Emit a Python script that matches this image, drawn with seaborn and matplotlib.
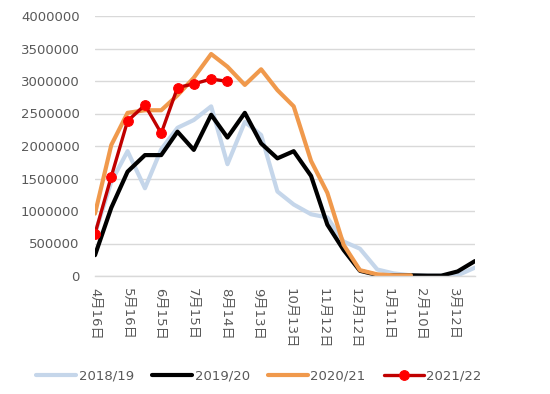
# Semi-monthly series by season, drawn on a date axis (ticks every 30 days)
import numpy as np
import pandas as pd
import matplotlib
matplotlib.use('Agg')
import matplotlib.pyplot as plt
from matplotlib.ticker import FuncFormatter
import seaborn as sns

nan = np.nan

# x positions: 1st and 16th of each month, season Apr -> Apr
dates = ['2021-04-16', '2021-05-01', '2021-05-16', '2021-06-01', '2021-06-16',
         '2021-07-01', '2021-07-16', '2021-08-01', '2021-08-16', '2021-09-01',
         '2021-09-16', '2021-10-01', '2021-10-16', '2021-11-01', '2021-11-16',
         '2021-12-01', '2021-12-16', '2022-01-01', '2022-01-16', '2022-02-01',
         '2022-02-16', '2022-03-01', '2022-03-16', '2022-04-01']

s_2018 = [650000, 1450000, 1920000, 1350000, 1950000, 2280000, 2400000, 2610000,
          1720000, 2370000, 2170000, 1300000, 1100000, 950000, 900000, 530000,
          420000, 100000, 40000, 10000, 5000, 5000, 10000, 130000]
s_2019 = [320000, 1050000, 1605000, 1860000, 1860000, 2220000, 1940000, 2480000,
          2130000, 2510000, 2040000, 1810000, 1920000, 1540000, 790000, 400000,
          80000, 15000, 10000, 10000, 5000, 5000, 70000, 230000]
s_2020 = [960000, 2015000, 2510000, 2550000, 2550000, 2780000, 3050000, 3415000,
          3220000, 2940000, 3180000, 2860000, 2610000, 1770000, 1280000, 480000,
          90000, 25000, 10000, 10000, nan, nan, nan, nan]
s_2021 = [650000, 1530000, 2385000, 2630000, 2195000, 2900000, 2955000, 3030000,
          2995000, nan, nan, nan, nan, nan, nan, nan, nan, nan, nan, nan,
          nan, nan, nan, nan]

season_labels = ['2018/19', '2019/20', '2020/21', '2021/22']

tick_dates = ['2021-04-16', '2021-05-16', '2021-06-15', '2021-07-15', '2021-08-14',
              '2021-09-13', '2021-10-13', '2021-11-12', '2021-12-12', '2022-01-11',
              '2022-02-10', '2022-03-12']
tick_labels = ['4月16日', '5月16日', '6月15日', '7月15日', '8月14日', '9月13日',
               '10月13日', '11月12日', '12月12日', '1月11日', '2月10日', '3月12日']

x = pd.to_datetime(dates)

sns.set_style('white')
plt.rcParams['font.family'] = ['DejaVu Sans', 'Noto Sans CJK SC']

fig, ax = plt.subplots(figsize=(5.5, 3.94), dpi=100)
fig.subplots_adjust(left=95 / 550, right=475 / 550, top=1 - 16 / 394, bottom=1 - 276 / 394)

sns.lineplot(x=x, y=s_2018, ax=ax, color='#c5d6ea', linewidth=3, label=season_labels[0])
sns.lineplot(x=x, y=s_2019, ax=ax, color='#000000', linewidth=3, label=season_labels[1])
sns.lineplot(x=x, y=s_2020, ax=ax, color='#f0994c', linewidth=3, label=season_labels[2])
sns.lineplot(x=x, y=s_2021, ax=ax, color='#c00000', linewidth=2.4, label=season_labels[3],
             marker='o', markersize=7, markerfacecolor='#ff0000', markeredgecolor='#ff0000')

ax.set_xlim(pd.Timestamp('2021-04-16'), pd.Timestamp('2022-04-01'))
ax.set_ylim(0, 4000000)
ax.set_yticks(np.arange(0, 4000001, 500000))
ax.yaxis.set_major_formatter(FuncFormatter(lambda v, p: f'{int(v)}'))
ax.set_xticks(pd.to_datetime(tick_dates))
ax.set_xticklabels(tick_labels, rotation=270, ha='center', va='top')

ax.yaxis.grid(True, color='#d9d9d9', linewidth=1)
ax.set_axisbelow(True)
for side in ['top', 'right', 'left']:
    ax.spines[side].set_visible(False)
ax.spines['bottom'].set_color('#d9d9d9')
ax.spines['bottom'].set_linewidth(1)

ax.tick_params(axis='y', length=0, pad=11, labelsize=9.5, labelcolor='#595959')
ax.tick_params(axis='x', length=3.5, pad=5, color='#d9d9d9', labelsize=9.5, labelcolor='#595959')
ax.set_xlabel('')
ax.set_ylabel('')

ax.legend(loc='center', bbox_to_anchor=(0.471, 0.046), bbox_transform=fig.transFigure,
          ncol=4, frameon=False, handlelength=3, handletextpad=0.2, columnspacing=1.4,
          fontsize=9.5, labelcolor='#595959')

fig.savefig('out.png', dpi=100)
